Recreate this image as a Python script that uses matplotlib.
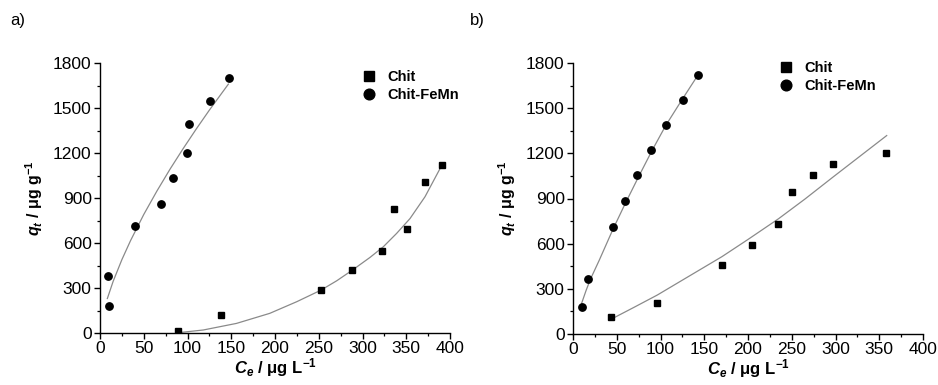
import matplotlib
matplotlib.use("Agg")
import matplotlib.pyplot as plt
from matplotlib.ticker import MultipleLocator

plt.rcParams['font.family'] = ['Liberation Sans', 'DejaVu Sans']
plt.rcParams['mathtext.fontset'] = 'custom'
plt.rcParams['mathtext.it'] = 'Liberation Sans:bold:italic'
plt.rcParams['mathtext.rm'] = 'Liberation Sans:bold'
plt.rcParams['mathtext.bf'] = 'Liberation Sans:bold'

# ---- panel a) data ----
a_femn_x = [9.5, 10.3, 40, 70, 83.4, 99, 102, 125.7, 147.8]
a_femn_y = [377, 177, 716, 858, 1031, 1199, 1394, 1547, 1702]
a_chit_x = [89.5, 138, 252.6, 288, 322.7, 336, 351, 371, 391]
a_chit_y = [15, 117, 290, 419, 550, 825, 692, 1004, 1117]
# fitted curves
a_femn_fit_x = [8.4, 15, 25, 35, 50, 65, 80, 95, 110, 125, 146.7]
a_femn_fit_y = [230, 344, 489, 617, 790, 946, 1092, 1229, 1360, 1486, 1659]
a_chit_fit_x = [89.5, 118, 156, 194, 225, 252.6, 270.5, 288.4, 308.6, 323.8, 339, 354.3, 371.4, 388.6]
a_chit_fit_y = [2, 20, 64, 131, 209, 286, 348, 419, 504, 575, 664, 763, 908, 1096]

# ---- panel b) data ----
b_femn_x = [10.3, 17, 45.7, 59.8, 73.5, 89, 106, 125.7, 142.9]
b_femn_y = [182, 368, 709, 882, 1055, 1224, 1390, 1552, 1720]
b_chit_x = [43.8, 96.4, 170, 205, 234.7, 250.7, 274, 297, 358]
b_chit_y = [111, 206, 461, 592, 731, 940, 1053, 1126, 1202]
b_femn_fit_x = [9.5, 15, 20, 30, 46, 60, 75, 90, 106, 125, 142.5]
b_femn_fit_y = [198, 290, 365, 490, 700, 870, 1045, 1215, 1385, 1560, 1717]
b_chit_fit_x = [44.2, 70, 96.4, 130, 170.3, 200, 235, 265, 297.5, 330, 358.5]
b_chit_fit_y = [100, 178, 259, 375, 514, 628, 766, 896, 1044, 1190, 1318]

xticks = [0, 50, 100, 150, 200, 250, 300, 350, 400]
yticks = [0, 300, 600, 900, 1200, 1500, 1800]
series_labels = ['Chit', 'Chit-FeMn']

fig = plt.figure(figsize=(9.38, 3.85), dpi=100)
axA = fig.add_axes([100/938, 1-333/385, 350/938, 270/385])
axB = fig.add_axes([573/938, 1-334/385, 350/938, 271/385])

fitcol = '#8a8a8a'
panels = [
    (axA, a_chit_x, a_chit_y, a_femn_x, a_femn_y, a_chit_fit_x, a_chit_fit_y, a_femn_fit_x, a_femn_fit_y,
     (368 - 100) / 350, 0.997, 'a)', 10/938),
    (axB, b_chit_x, b_chit_y, b_femn_x, b_femn_y, b_chit_fit_x, b_chit_fit_y, b_femn_fit_x, b_femn_fit_y,
     (785 - 573) / 350, 1.03, 'b)', 470/938),
]

for ax, cx, cy, fx, fy, cfx, cfy, ffx, ffy, legx, legy, lab, labx in panels:
    ax.plot(cfx, cfy, color=fitcol, lw=0.9, zorder=1, solid_joinstyle='round')
    ax.plot(ffx, ffy, color=fitcol, lw=0.9, zorder=1, solid_joinstyle='round')
    ax.plot(cx, cy, 's', color='black', ms=4.6, ls='none', label=series_labels[0], zorder=3)
    ax.plot(fx, fy, 'o', color='black', ms=5.3, ls='none', label=series_labels[1], zorder=3)
    ax.set_xlim(0, 400)
    ax.set_ylim(0, 1800)
    ax.set_xticks(xticks)
    ax.set_yticks(yticks)
    ax.xaxis.set_minor_locator(MultipleLocator(25))
    ax.yaxis.set_minor_locator(MultipleLocator(150))
    ax.spines['top'].set_visible(False)
    ax.spines['right'].set_visible(False)
    for s in ['left', 'bottom']:
        ax.spines[s].set_linewidth(1.0)
    ax.tick_params(which='major', direction='out', length=4, width=1.0, labelsize=12.5, pad=2)
    ax.tick_params(which='minor', direction='out', length=2.5, width=0.9)
    ax.set_xlabel(r'$C_e$ / μg L$^{-1}$', fontsize=12, fontweight='bold', labelpad=0)
    ax.set_ylabel(r'$q_t$ / μg g$^{-1}$', fontsize=11.5, fontweight='bold', labelpad=6)
    ax.legend(loc='upper left', bbox_to_anchor=(legx - 0.035, legy), frameon=False,
              prop={'weight': 'bold', 'size': 10.5}, markerscale=1.45,
              handlelength=1.0, handletextpad=0.8, labelspacing=0.3, borderaxespad=0)
    fig.text(labx, 1 - 20/385, lab, fontsize=12, va='center', ha='left')

fig.savefig('out.png', dpi=100)
